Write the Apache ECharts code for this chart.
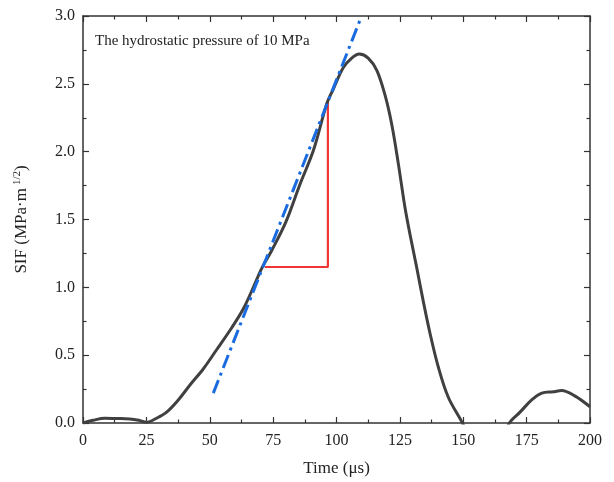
<!DOCTYPE html>
<html>
<head>
<meta charset="utf-8">
<script src="https://cdn.jsdelivr.net/npm/echarts@6/dist/echarts.min.js"></script>
<style>html,body{margin:0;padding:0;background:#fff}#c{width:614px;height:482px}</style>
</head>
<body>
<div id="c"></div>
<script>
// SIF curve (time in µs, SIF in MPa·m^1/2)
const timeUs = [0, 4, 8.6, 13, 18.5, 22, 25, 29, 33, 37.6, 42.2, 47.5, 52.7, 58.6, 63.2, 67.2, 70.5, 74.4, 80, 85.6, 90.9, 96.1, 98.7, 102.7, 106, 109, 112.5, 115.9, 119.1, 121.8, 124.4, 127, 129, 131.6, 134.2, 136.9, 140.2, 144.1, 149.4, 155, 160, 165, 168.2, 172.4, 177, 181, 185.5, 188.8, 194, 200];
const sifValues = [0, 0.02, 0.035, 0.033, 0.03, 0.02, 0.005, 0.035, 0.08, 0.17, 0.28, 0.40, 0.54, 0.70, 0.84, 1.0, 1.14, 1.27, 1.48, 1.76, 2.01, 2.35, 2.46, 2.62, 2.69, 2.72, 2.69, 2.60, 2.42, 2.20, 1.91, 1.59, 1.39, 1.15, 0.90, 0.66, 0.41, 0.19, 0.01, -0.2, -0.3, -0.15, 0.0, 0.08, 0.17, 0.22, 0.23, 0.24, 0.20, 0.12];
// tangent (dash-dot) line
const tangentT = [51.4, 109.7];
const tangentV = [0.22, 2.99];
// red slope triangle
const triT = [71.8, 96.6, 96.6];
const triV = [1.15, 1.15, 2.37];
const xTicks = [0, 25, 50, 75, 100, 125, 150, 175, 200];
const yTicks = [0.0, 0.5, 1.0, 1.5, 2.0, 2.5, 3.0];
const noteText = 'The hydrostatic pressure of 10 MPa';

const zip = (a, b) => a.map((v, i) => [v, b[i]]);
const font = 'Liberation Serif';
const axisCommon = {
  axisLine: { show: true, onZero: false, lineStyle: { color: '#333', width: 1.5 } },
  axisTick: { show: true, inside: true, length: 6, lineStyle: { color: '#333', width: 1.2 } },
  minorTick: { show: true, splitNumber: 2, length: 3.5, lineStyle: { color: '#333', width: 1.2 } },
  splitLine: { show: false }
};
const chart = echarts.init(document.getElementById('c'));
chart.setOption({
  animation: false,
  backgroundColor: '#fff',
  grid: { left: 83, right: 24, top: 16, bottom: 59 },
  xAxis: [
    Object.assign({ type: 'value', min: xTicks[0], max: xTicks[xTicks.length - 1], interval: 25, position: 'bottom',
      name: 'Time (μs)', nameLocation: 'middle', nameGap: 37,
      nameTextStyle: { fontFamily: font, fontSize: 17, color: '#222' },
      axisLabel: { fontFamily: font, fontSize: 16, color: '#222', margin: 10 } }, axisCommon),
    Object.assign({ type: 'value', min: xTicks[0], max: xTicks[xTicks.length - 1], interval: 25, position: 'top',
      axisLabel: { show: false } }, axisCommon)
  ],
  yAxis: [
    Object.assign({ type: 'value', min: yTicks[0], max: yTicks[yTicks.length - 1], interval: 0.5, position: 'left',
      name: 'SIF (MPa·m{sup|1/2})', nameLocation: 'middle', nameGap: 52, nameRotate: 90,
      nameTextStyle: { fontFamily: font, fontSize: 17, color: '#222',
        rich: { sup: { fontFamily: font, fontSize: 11, color: '#222', verticalAlign: 'top', padding: [0, 0, 8, 3] } } },
      axisLabel: { fontFamily: font, fontSize: 16, color: '#222', margin: 8, formatter: v => v.toFixed(1) } }, axisCommon),
    Object.assign({ type: 'value', min: yTicks[0], max: yTicks[yTicks.length - 1], interval: 0.5, position: 'right',
      axisLabel: { show: false } }, axisCommon)
  ],
  graphic: [{
    type: 'text', left: 95, top: 34,
    style: { text: noteText, font: '15px "Liberation Serif"', fill: '#222' }
  }],
  series: [
    { type: 'line', data: zip(timeUs, sifValues), smooth: 0.35, showSymbol: false, clip: true,
      lineStyle: { color: '#404040', width: 3 }, z: 3 },
    { type: 'line', data: zip(triT, triV), showSymbol: false, clip: true,
      lineStyle: { color: '#f03535', width: 2.2 }, z: 2 },
    { type: 'line', data: zip(tangentT, tangentV), showSymbol: false, clip: true,
      lineStyle: { color: '#1a6be0', width: 3, type: [14, 5, 3, 5] }, z: 4 }
  ]
});
</script>
</body>
</html>
